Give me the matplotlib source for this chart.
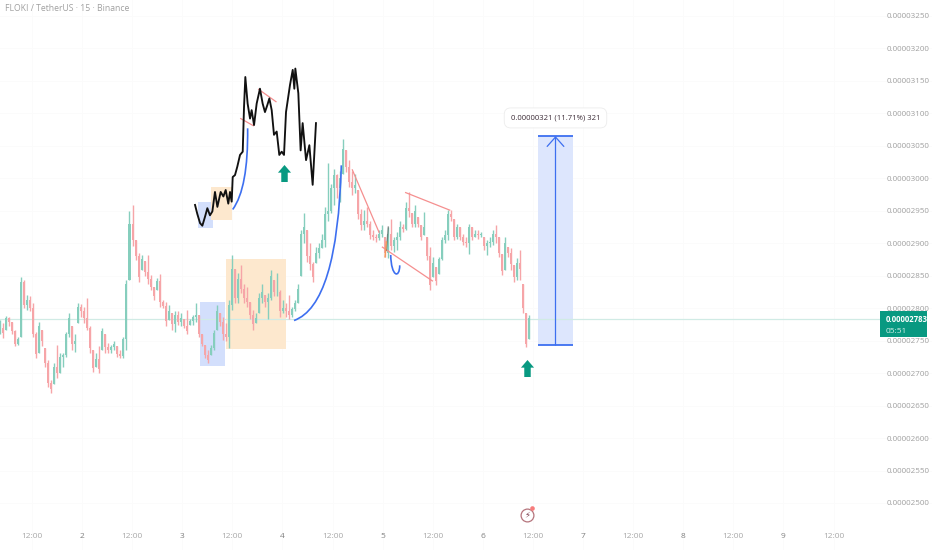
import matplotlib
matplotlib.use('Agg')
import matplotlib.pyplot as plt
import numpy as np
from matplotlib.patches import PathPatch, Rectangle
from matplotlib.path import Path

plt.rcParams['font.family'] = ['Open Sans', 'DejaVu Sans']

# prices are in units of 0.00000001, time is in days of the month
first_bar = 1.184
bar_days = 0.03

highs = [2782, 2777, 2788, 2787, 2779, 2767, 2756, 2848, 2843, 2820,
         2818, 2808, 2764, 2779, 2767, 2738, 2720, 2690, 2715, 2743,
         2731, 2731, 2764, 2792, 2772, 2761, 2808, 2807, 2802, 2815,
         2772, 2736, 2731, 2741, 2769, 2761, 2746, 2743, 2749, 2741,
         2736, 2756, 2843, 2949, 2959, 2905, 2885, 2882, 2872, 2882,
         2851, 2833, 2846, 2853, 2813, 2810, 2805, 2792, 2795, 2795,
         2792, 2784, 2797, 2784, 2790, 2808, 2790, 2761, 2743, 2736,
         2743, 2767, 2805, 2792, 2787, 2777, 2813, 2882, 2861, 2854,
         2867, 2838, 2833, 2810, 2797, 2792, 2823, 2838, 2820, 2823,
         2859, 2843, 2854, 2828, 2813, 2808, 2820, 2802, 2813, 2838,
         2920, 2946, 2920, 2900, 2871, 2894, 2900, 2915, 2956, 3023,
         2992, 3015, 3007, 3012, 3061, 3043, 3028, 3012, 3007, 2982,
         2953, 2951, 2956, 2935, 2920, 2915, 2920, 2928, 2910, 2925,
         2938, 2910, 2918, 2935, 2930, 2964, 2979, 2946, 2959, 2941,
         2928, 2948, 2910, 2894, 2879, 2864, 2879, 2910, 2920, 2951,
         2951, 2938, 2930, 2925, 2915, 2910, 2930, 2925, 2920, 2920,
         2918, 2910, 2905, 2910, 2920, 2928, 2910, 2884, 2910, 2894,
         2892, 2866, 2877, 2889, 2838, 2792, 2789]
lows = [2761, 2754, 2767, 2772, 2761, 2741, 2743, 2756, 2800, 2797,
        2795, 2756, 2723, 2731, 2741, 2710, 2679, 2669, 2684, 2692,
        2700, 2710, 2725, 2756, 2736, 2733, 2777, 2787, 2777, 2767,
        2731, 2702, 2710, 2700, 2736, 2731, 2731, 2731, 2736, 2725,
        2723, 2723, 2736, 2843, 2895, 2874, 2841, 2859, 2849, 2838,
        2828, 2813, 2828, 2802, 2800, 2772, 2782, 2767, 2764, 2774,
        2772, 2769, 2761, 2774, 2774, 2779, 2756, 2741, 2723, 2715,
        2728, 2736, 2767, 2772, 2751, 2749, 2738, 2797, 2808, 2808,
        2823, 2808, 2802, 2784, 2767, 2777, 2792, 2808, 2802, 2784,
        2813, 2818, 2818, 2787, 2792, 2787, 2784, 2787, 2795, 2808,
        2849, 2900, 2871, 2859, 2841, 2869, 2877, 2892, 2894, 2935,
        2946, 2959, 2969, 2964, 3007, 3010, 2987, 2974, 2977, 2938,
        2920, 2920, 2925, 2907, 2905, 2902, 2905, 2910, 2879, 2877,
        2889, 2887, 2889, 2905, 2918, 2920, 2941, 2925, 2925, 2925,
        2905, 2912, 2874, 2828, 2848, 2835, 2853, 2874, 2900, 2905,
        2935, 2905, 2907, 2905, 2897, 2894, 2884, 2905, 2910, 2907,
        2910, 2889, 2882, 2894, 2897, 2900, 2879, 2851, 2859, 2879,
        2859, 2841, 2843, 2843, 2792, 2740, 2753]
closes = [2770, 2762, 2785, 2778, 2765, 2745, 2752, 2840, 2805, 2812,
          2800, 2760, 2730, 2772, 2750, 2716, 2685, 2676, 2710, 2700,
          2725, 2728, 2760, 2785, 2745, 2750, 2802, 2795, 2785, 2770,
          2738, 2708, 2722, 2706, 2765, 2740, 2736, 2740, 2745, 2730,
          2726, 2752, 2838, 2930, 2905, 2880, 2848, 2875, 2855, 2845,
          2832, 2818, 2842, 2810, 2803, 2780, 2795, 2775, 2790, 2778,
          2785, 2773, 2765, 2780, 2786, 2790, 2760, 2745, 2728, 2720,
          2738, 2762, 2795, 2778, 2760, 2755, 2805, 2860, 2815, 2845,
          2830, 2815, 2810, 2790, 2775, 2785, 2815, 2825, 2810, 2815,
          2850, 2825, 2825, 2795, 2800, 2795, 2790, 2798, 2808, 2830,
          2915, 2925, 2880, 2868, 2848, 2885, 2892, 2905, 2945, 2950,
          2985, 3005, 2985, 3000, 3045, 3018, 2995, 2985, 2990, 2945,
          2928, 2935, 2930, 2912, 2910, 2908, 2915, 2920, 2885, 2915,
          2895, 2905, 2910, 2925, 2922, 2955, 2950, 2930, 2950, 2930,
          2910, 2925, 2880, 2835, 2870, 2842, 2875, 2905, 2912, 2945,
          2940, 2910, 2925, 2910, 2902, 2900, 2925, 2910, 2915, 2912,
          2915, 2895, 2900, 2902, 2915, 2910, 2885, 2858, 2900, 2885,
          2868, 2848, 2870, 2860, 2800, 2745, 2785]

# black hand drawn price path above the candles
path_days = [3.128, 3.151, 3.178, 3.201, 3.228, 3.251, 3.277, 3.301, 3.327, 3.351,
             3.384, 3.411, 3.434, 3.460, 3.477, 3.494, 3.504, 3.527, 3.550, 3.577,
             3.604, 3.617, 3.630, 3.653, 3.677, 3.693, 3.717, 3.743, 3.776, 3.803,
             3.826, 3.850, 3.870, 3.893, 3.916, 3.943, 3.969, 3.993, 4.016, 4.036,
             4.076, 4.103, 4.119, 4.129, 4.159, 4.182, 4.202, 4.236, 4.269, 4.302,
             4.335]
path_prices = [2959, 2945, 2931, 2927, 2941, 2954, 2943, 2949, 2979, 2956,
               2979, 2972, 2982, 2961, 2979, 2964, 3002, 3005, 3018, 3036,
               3041, 3110, 3156, 3115, 3092, 3105, 3082, 3115, 3138, 3115,
               3102, 3113, 3123, 3105, 3067, 3072, 3036, 3041, 3036, 3102,
               3144, 3167, 3138, 3169, 3131, 3043, 3085, 3028, 3051, 2990,
               3085]

# blue curves: start, control points, end
big_curve = [(4.116, 2781), (4.55, 2805), (4.588, 3020)]
small_curve = [(3.504, 2952), (3.66, 2985), (3.653, 3077)]
hook_curve = [(5.081, 2882), (5.085, 2848), (5.17, 2845), (5.171, 2866)]

# red trend lines: day, price, day, price
trend_lines = [(4.698, 3013, 4.964, 2917), (4.998, 2894, 5.497, 2842),
               (5.230, 2978, 5.670, 2951), (3.584, 3092, 3.710, 3081),
               (3.763, 3137, 3.936, 3118)]

# small scribbles inside the candles near day 5
dark_mark = (5.057, 2925, 5.037, 2889)
orange_mark = (5.024, 2879, 5.037, 2902)

# zones: day from, day to, price low, price high
blue_zones = [(3.158, 3.308, 2924, 2964), (3.178, 3.427, 2711, 2810)]
orange_zones = [(3.287, 3.497, 2936, 2987), (3.437, 4.036, 2737, 2876)]
long_from, long_to = 6.551, 6.900
long_low, long_high = 2743, 3065
long_label = '0.00000321 (11.71%) 321'

arrow_days = [4.016, 6.441]
arrow_prices = [3008, 2708]

last_price = 2783
countdown = '05:51'

price_ticks = list(range(2500, 3251, 50))
time_ticks = [1.5, 2, 2.5, 3, 3.5, 4, 4.5, 5, 5.5, 6, 6.5, 7, 7.5, 8, 8.5, 9, 9.5]
time_labels = ['12:00', '2', '12:00', '3', '12:00', '4', '12:00', '5', '12:00',
               '6', '12:00', '7', '12:00', '8', '12:00', '9', '12:00']

fig = plt.figure(figsize=(9.32, 5.5), dpi=100)
ax = fig.add_axes([0, 0, 1, 1])
ax.set_xlim(1.1816, 10.483)
ax.set_ylim(2427.6, 3274.6)
for spine in ax.spines.values():
    spine.set_visible(False)

ax.set_xticks(time_ticks)
ax.set_xticklabels(time_labels)
ax.set_yticks(price_ticks)
ax.set_yticklabels([f'{p * 1e-8:.8f}' for p in price_ticks])
ax.yaxis.tick_right()
ax.tick_params(axis='y', direction='in', length=0, pad=-33, labelsize=5.8, labelcolor='#a0a0a0')
ax.tick_params(axis='x', direction='in', length=0, pad=-12, labelsize=6.0, labelcolor='#a8a8a8')
for label, text in zip(ax.get_xticklabels(), time_labels):
    if text != '12:00':
        label.set_color('#808080')
ax.grid(color='#fbfbfb', linewidth=0.6)
ax.set_axisbelow(True)

# zones sit under the candles
for x0, x1, y0, y1 in blue_zones:
    ax.add_patch(Rectangle((x0, y0), x1 - x0, y1 - y0, color='#d3dffc', lw=0, zorder=1))
for x0, x1, y0, y1 in orange_zones:
    ax.add_patch(Rectangle((x0, y0), x1 - x0, y1 - y0, color='#fde8ce', lw=0, zorder=1))

ax.axhline(last_price, color='#d0ebe5', lw=0.9, zorder=1.5, xmax=880 / 932)

# candles
highs = np.array(highs)
lows = np.array(lows)
closes = np.array(closes)
opens = np.r_[closes[0] - 8, closes[:-1]]
days = first_bar + bar_days * np.arange(len(closes))
colors = np.where(closes >= opens, '#86cebd', '#f6a5a8')
body_low = np.clip(np.minimum(opens, closes), lows, highs)
body_high = np.clip(np.maximum(opens, closes), lows, highs)
ax.vlines(days, lows, highs, colors=colors, lw=1.0, zorder=2)
ax.bar(days, body_high - body_low, bottom=body_low, width=0.02, color=colors, lw=0, zorder=2.1)

for x0, y0, x1, y1 in trend_lines:
    ax.plot([x0, x1], [y0, y1], color='#f58f8f', lw=0.9, zorder=3)
ax.plot(dark_mark[::2], dark_mark[1::2], color='#555555', lw=1.0, alpha=0.6, zorder=3)
ax.plot(orange_mark[::2], orange_mark[1::2], color='#f59a5a', lw=1.0, zorder=3)


def draw_curve(points, code):
    codes = [Path.MOVETO] + [code] * (len(points) - 1)
    ax.add_patch(PathPatch(Path(points, codes), fc='none', ec='#3d6ff0', lw=1.2, zorder=3))


draw_curve(big_curve, Path.CURVE3)
draw_curve(small_curve, Path.CURVE3)
draw_curve(hook_curve, Path.CURVE4)
ax.plot(path_days, path_prices, color='#111111', lw=1.35, zorder=4)

# long position tool
ax.add_patch(Rectangle((long_from, long_low), long_to - long_from, long_high - long_low,
                       color='#dde6fd', lw=0, zorder=1))
ax.hlines([long_low, long_high], long_from, long_to, colors='#3d6ff0', lw=1.3, zorder=3)
long_mid = (long_from + long_to) / 2
ax.annotate('', xy=(long_mid, long_high), xytext=(long_mid, long_low), zorder=3,
            arrowprops=dict(arrowstyle='->,head_length=0.45,head_width=0.4', color='#3d6ff0',
                            lw=0.9, shrinkA=0, shrinkB=0, mutation_scale=15))
ax.text(long_mid, long_high + 28, long_label, ha='center', va='center', fontsize=5.5,
        color='#3b2b36', zorder=6,
        bbox=dict(boxstyle='round,pad=0.85', fc='white', ec='#ececec', lw=0.6))

# green up arrows
arrow_marker = Path([(0, 1), (0.77, 0.1), (0.38, 0.1), (0.38, -1), (-0.38, -1), (-0.38, 0.1),
                     (-0.77, 0.1), (0, 1)], closed=True)
ax.scatter(arrow_days, arrow_prices, marker=arrow_marker, s=150, color='#089981', lw=0, zorder=5)

# price tag on the right axis
tag_from = 2 + (880 - 82) / 100.2
tag_to = 2 + (927 - 82) / 100.2
ax.add_patch(Rectangle((tag_from, last_price - 27), tag_to - tag_from, 40,
                       color='#089981', lw=0, zorder=7))
ax.text(tag_from + 0.06, last_price, f'{last_price * 1e-8:.8f}', color='white', fontsize=5.6,
        fontweight='bold', va='center', ha='left', zorder=8)
ax.text(tag_from + 0.06, last_price - 19, countdown, color='#d5efe9', fontsize=6.0,
        va='center', ha='left', zorder=8)

ax.text(1.23, 3262, 'FLOKI / TetherUS · 15 · Binance', color='#a0a0a0', fontsize=6.2,
        va='center', ha='left')

# lightning badge near the time axis
ax.scatter([6.441], [2482], s=85, facecolor='white', edgecolor='#b5747c', lw=0.9, zorder=5)
ax.scatter([6.486], [2492], s=11, color='#f77c7c', lw=0, zorder=6)
ax.text(6.441, 2482, '\u26a1', ha='center', va='center', fontsize=6, color='#7a3b4a',
        family='DejaVu Sans', zorder=6)

fig.savefig('out.png', dpi=100)
